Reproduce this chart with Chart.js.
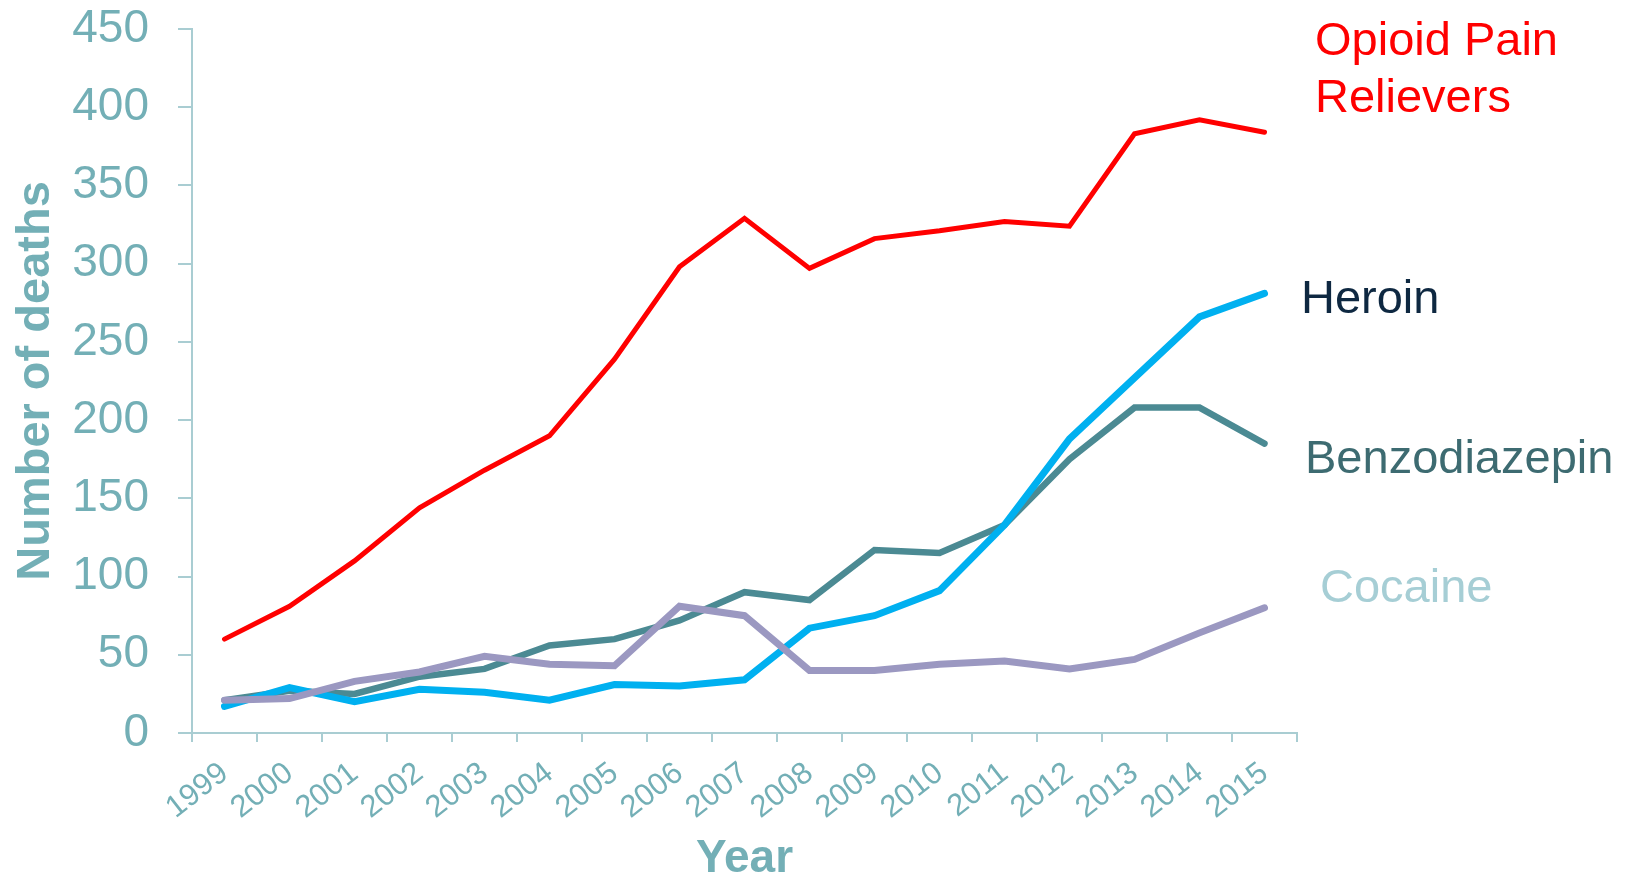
<!DOCTYPE html>
<html>
<head>
<meta charset="utf-8">
<title>Overdose deaths by drug type</title>
<script src="https://cdn.jsdelivr.net/npm/chart.js@4/dist/chart.umd.min.js"></script>
<style>
    html, body {
        margin: 0;
        padding: 0;
        background: #ffffff;
    }
    .chart-wrap {
        width: 1634px;
        height: 878px;
        position: relative;
    }
</style>
</head>
<body>
<div class="chart-wrap">
    <canvas id="deathsChart"></canvas>
</div>
<script>
const years = ['1999', '2000', '2001', '2002', '2003', '2004', '2005', '2006', '2007',
               '2008', '2009', '2010', '2011', '2012', '2013', '2014', '2015'];

const opioidPainRelievers = [60, 81, 110, 144, 168, 190, 239, 298, 329, 297, 316, 321, 327, 324, 383, 392, 384];
const heroin = [17, 29, 20, 28, 26, 21, 31, 30, 34, 67, 75, 91, 133, 188, 227, 266, 281];
const benzodiazepin = [21, 27, 25, 36, 41, 56, 60, 72, 90, 85, 117, 115, 133, 175, 208, 208, 185];
const cocaine = [21, 22, 33, 39, 49, 44, 43, 81, 75, 40, 40, 44, 46, 41, 47, 64, 80];

const yTicks = [0, 50, 100, 150, 200, 250, 300, 350, 400, 450];

const FONT = '"Liberation Sans", Arial, sans-serif';
const AXIS_TEXT = '#73afb6';
const AXIS_LINE = '#a9cdd2';

// Series names written next to the line ends instead of a legend
const seriesLabels = [
    { lines: ['Opioid Pain', 'Relievers'], color: '#ff0000', dx: 18, y: 55 },
    { lines: ['Heroin'], color: '#0e2841', dx: 4, y: 313 },
    { lines: ['Benzodiazepin'], color: '#3d6b71', dx: 8, y: 473 },
    { lines: ['Cocaine'], color: '#a6ced5', dx: 23, y: 602 }
];

const endLabels = {
    id: 'endLabels',
    afterDraw(chart) {
        const ctx = chart.ctx;
        const right = chart.chartArea.right;
        ctx.save();
        ctx.font = '47px ' + FONT;
        ctx.textAlign = 'left';
        ctx.textBaseline = 'alphabetic';
        seriesLabels.forEach(item => {
            ctx.fillStyle = item.color;
            item.lines.forEach((text, i) => {
                ctx.fillText(text, right + item.dx, item.y + i * 57);
            });
        });
        ctx.restore();
    }
};

function line(label, data, color, width, order) {
    return {
        label: label,
        data: data,
        borderColor: color,
        backgroundColor: color,
        borderWidth: width,
        borderCapStyle: 'round',
        pointRadius: 0,
        pointHoverRadius: 0,
        tension: 0,
        fill: false,
        order: order
    };
}

const config = {
    type: 'line',
    data: {
        labels: years,
        datasets: [
            line('Opioid Pain Relievers', opioidPainRelievers, '#ff0000', 5, 0),
            line('Cocaine', cocaine, '#9b98c1', 7, 1),
            line('Heroin', heroin, '#00b0f0', 7, 2),
            line('Benzodiazepin', benzodiazepin, '#4b8a93', 6.5, 3)
        ]
    },
    options: {
        responsive: true,
        maintainAspectRatio: false,
        animation: false,
        layout: {
            padding: { left: 0, top: 0, right: 337, bottom: 0 }
        },
        plugins: {
            legend: { display: false },
            tooltip: { enabled: false }
        },
        scales: {
            x: {
                type: 'category',
                offset: true,
                grid: {
                    offset: true,
                    drawOnChartArea: false,
                    drawTicks: true,
                    tickLength: 9,
                    color: AXIS_LINE,
                    lineWidth: 2
                },
                border: { display: true, color: AXIS_LINE, width: 2 },
                ticks: {
                    color: AXIS_TEXT,
                    font: { family: FONT, size: 31 },
                    minRotation: 38,
                    maxRotation: 38,
                    padding: 13,
                    autoSkip: false
                },
                title: {
                    display: true,
                    text: 'Year',
                    color: AXIS_TEXT,
                    font: { family: FONT, size: 46, weight: 'bold', lineHeight: 1 },
                    padding: { top: 0, bottom: -4 }
                },
                afterFit(scale) {
                    scale.height = 145;
                }
            },
            y: {
                min: 0,
                max: 450,
                grid: {
                    drawOnChartArea: false,
                    drawTicks: true,
                    tickLength: 14,
                    color: AXIS_LINE,
                    lineWidth: 2
                },
                border: { display: true, color: AXIS_LINE, width: 2 },
                afterBuildTicks(scale) {
                    scale.ticks = yTicks.map(v => ({ value: v }));
                },
                ticks: {
                    color: AXIS_TEXT,
                    font: { family: FONT, size: 46 },
                    padding: 29
                },
                title: {
                    display: true,
                    text: 'Number of deaths',
                    color: AXIS_TEXT,
                    font: { family: FONT, size: 47, weight: 'bold', lineHeight: 1.2 },
                    padding: { top: 8, bottom: 0 }
                },
                afterFit(scale) {
                    scale.width = 192;
                    // tick padding would otherwise push the plot top down
                    scale.paddingTop = 29;
                    scale.paddingBottom = 0;
                }
            }
        }
    },
    plugins: [endLabels]
};

window.addEventListener('DOMContentLoaded', () => {
    const canvas = document.getElementById('deathsChart');
    window.deathsChart = new Chart(canvas, config);
});
</script>
</body>
</html>
